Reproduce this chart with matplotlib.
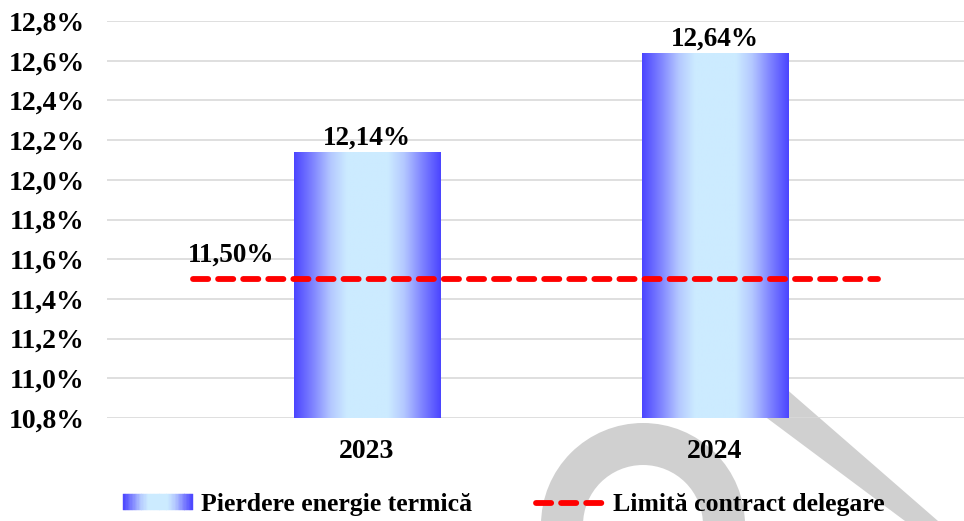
import numpy as np
import matplotlib
matplotlib.use("Agg")
import matplotlib.pyplot as plt
from matplotlib.colors import LinearSegmentedColormap
from matplotlib.patches import Rectangle, Wedge, Polygon
from matplotlib.legend_handler import HandlerBase
from matplotlib.lines import Line2D

plt.rcParams['font.family'] = ['Liberation Serif', 'DejaVu Serif']
plt.rcParams['font.weight'] = 'bold'

years = ['2023', '2024']
pierderi = [12.14, 12.64]          # pierdere energie termica, %
limita = 11.50                      # limita din contractul de delegare, %
yticks = [10.8, 11.0, 11.2, 11.4, 11.6, 11.8, 12.0, 12.2, 12.4, 12.6, 12.8]

# gradient albastru -> bleu deschis -> albastru pe latimea coloanei
grad = LinearSegmentedColormap.from_list('bara', [
    (0.0, '#4B45FF'), (0.12, '#7C80FF'), (0.25, '#B4C8FF'),
    (0.36, '#CCEBFF'), (0.64, '#CCEBFF'), (0.75, '#B4C8FF'),
    (0.88, '#7C80FF'), (1.0, '#4B45FF')])

def fmt(v, dec):
    return f"{v:.{dec}f}%".replace('.', ',')

fig = plt.figure(figsize=(9.64, 5.21), dpi=100)

# watermark gri in fundal (coordonate in pixeli)
bg = fig.add_axes([0, 0, 1, 1], zorder=0)
bg.set_xlim(0, 964)
bg.set_ylim(521, 0)
bg.axis('off')
bg.add_patch(Wedge((643, 525), 102, 180, 360, width=42, color='#D0D0D0', lw=0))
bg.add_patch(Polygon([(716, 380), (776, 380), (938, 521), (905, 521)],
                     closed=True, color='#D0D0D0', lw=0))

ax = fig.add_axes([107 / 964, 1 - 418 / 521, 1 - 107 / 964, (418 - 21) / 521], zorder=1)
ax.patch.set_alpha(0)

x = np.arange(len(years))
w = 0.42
bars = ax.bar(x, pierderi, width=w, bottom=0, color='none', zorder=2)
for b in bars:
    x0, x1 = b.get_x(), b.get_x() + b.get_width()
    im = ax.imshow(np.linspace(0, 1, 256).reshape(1, -1), cmap=grad, aspect='auto',
                   extent=(x0, x1, 10.8, b.get_height()), zorder=2,
                   interpolation='bilinear')
    im.set_clip_path(b)

for xi, v in zip(x, pierderi):
    ax.annotate(fmt(v, 2), (xi, v), xytext=(0, 1), textcoords='offset points',
                ha='center', va='bottom', fontsize=19.5, fontweight='bold')

ax.plot([-0.5, 1.47], [limita, limita], color='#FF0000', lw=4.2, ls=(0, (2.6, 1.7)),
        dash_capstyle='round', zorder=3)
ax.annotate(fmt(limita, 2), (-0.39, limita), xytext=(0, 8), textcoords='offset points',
            ha='center', va='bottom', fontsize=19.5, fontweight='bold')

ax.set_xlim(-0.747, 1.716)
ax.set_ylim(10.8, 12.8)
ax.set_yticks(yticks)
ax.set_yticklabels([fmt(t, 1) for t in yticks])
ax.set_xticks(x)
ax.set_xticklabels(years)
ax.tick_params(axis='y', length=0, pad=16, labelsize=20)
ax.tick_params(axis='x', length=0, pad=15, labelsize=20)
ax.yaxis.grid(True, color='#D9D9D9', lw=1.2, zorder=0)
ax.set_axisbelow(True)
for s in ax.spines.values():
    s.set_visible(False)


class GradientHandler(HandlerBase):
    def create_artists(self, legend, orig_handle, xdescent, ydescent,
                       width, height, fontsize, trans):
        n = 50
        arts = []
        for i in range(n):
            c = grad((i + 0.5) / n)
            arts.append(Rectangle((-xdescent + i * width / n, -ydescent),
                                  width / n * 1.05, height, facecolor=c,
                                  edgecolor=c, lw=0.3, transform=trans))
        return arts


patch_h = Rectangle((0, 0), 1, 1)
line_h = Line2D([], [], color='#FF0000', lw=4.2, ls=(0, (2.6, 1.7)), dash_capstyle='round')
fig.legend([patch_h, line_h], ['Pierdere energie termică', 'Limită contract delegare'],
           handler_map={Rectangle: GradientHandler()},
           loc='center', bbox_to_anchor=(504 / 964, 1 - 505 / 521), ncol=2,
           frameon=False, prop={'size': 18.5, 'weight': 'bold'},
           handlelength=2.7, handleheight=0.58, handletextpad=0.3,
           columnspacing=2.5, borderaxespad=0, borderpad=0)

fig.savefig('out.png', dpi=100)
